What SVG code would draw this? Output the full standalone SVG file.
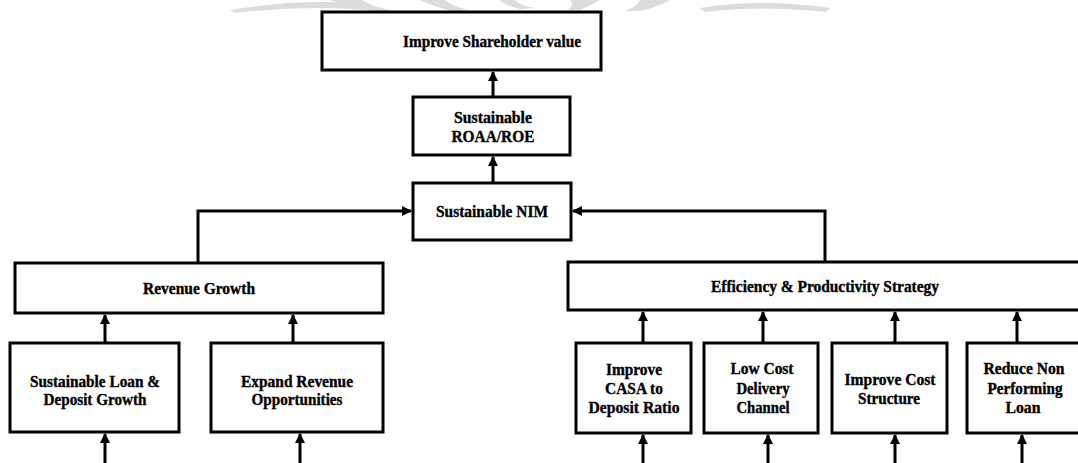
<svg xmlns="http://www.w3.org/2000/svg" width="1078" height="463" viewBox="0 0 1078 463">
  <style>
    .box { fill: #ffffff; stroke: #000000; stroke-width: 3; }
    .lbl { font-family: "Liberation Serif", "Times New Roman", serif; font-weight: bold; font-size: 16px; fill: #000000; stroke: #000000; stroke-width: 0.35; text-anchor: middle; }
    .con { fill: none; stroke: #000000; stroke-width: 3; marker-end: url(#ah); }
    .wm { fill: #dcdcdc; stroke: none; }
  </style>
  <defs>
    <marker id="ah" markerUnits="userSpaceOnUse" markerWidth="10" markerHeight="10" viewBox="0 0 10 10" refX="9" refY="5" orient="auto">
      <path d="M0,0 L10,5 L0,10 Z" fill="#000000"/>
    </marker>
  </defs>
  <rect width="1078" height="463" fill="#ffffff"/>

  <g id="watermark">
    <path class="wm" d="M230,10 Q300,-2 370,4 L368,10 Q300,5 235,13 Z"/>
    <path class="wm" d="M330,0 L362,0 Q375,8 392,10 L380,12 Q350,8 330,0 Z"/>
    <path class="wm" d="M420,0 L445,0 Q455,8 470,10 L452,11 Q432,6 420,0 Z"/>
    <path class="wm" d="M500,0 L515,0 Q520,6 535,8 L520,9 Q505,5 500,0 Z"/>
    <path class="wm" d="M570,0 L600,0 Q590,6 580,10 L568,10 Q575,5 570,0 Z"/>
    <path class="wm" d="M640,0 L670,0 Q655,8 640,11 L625,11 Q638,6 640,0 Z"/>
    <path class="wm" d="M700,8 Q760,-2 830,8 L826,12 Q760,5 705,12 Z"/>
  </g>

  <g id="connectors">
    <line class="con" x1="493" y1="97" x2="493" y2="72"/>
    <line class="con" x1="493" y1="183" x2="493" y2="157"/>
    <polyline class="con" points="198,263 198,211 411,211"/>
    <polyline class="con" points="825,262 825,211 573,211"/>
    <line class="con" x1="105" y1="343" x2="105" y2="315"/>
    <line class="con" x1="293" y1="343" x2="293" y2="315"/>
    <line class="con" x1="105" y1="463" x2="105" y2="434"/>
    <line class="con" x1="300" y1="463" x2="300" y2="434"/>
    <line class="con" x1="643" y1="343" x2="643" y2="312"/>
    <line class="con" x1="763" y1="343" x2="763" y2="312"/>
    <line class="con" x1="895" y1="343" x2="895" y2="312"/>
    <line class="con" x1="1017" y1="343" x2="1017" y2="312"/>
    <line class="con" x1="643" y1="463" x2="643" y2="435"/>
    <line class="con" x1="768" y1="463" x2="768" y2="435"/>
    <line class="con" x1="895" y1="463" x2="895" y2="435"/>
    <line class="con" x1="1022" y1="463" x2="1022" y2="435"/>
  </g>

  <g id="shareholder">
    <rect class="box" x="322" y="12" width="279" height="58"/>
    <text class="lbl" x="492" y="47" textLength="178" lengthAdjust="spacingAndGlyphs">Improve Shareholder value</text>
  </g>
  <g id="roaa">
    <rect class="box" x="413" y="97" width="157" height="58"/>
    <text class="lbl" x="493" y="123" textLength="78" lengthAdjust="spacingAndGlyphs">Sustainable</text>
    <text class="lbl" x="493" y="142" textLength="83" lengthAdjust="spacingAndGlyphs">ROAA/ROE</text>
  </g>
  <g id="nim">
    <rect class="box" x="413" y="183" width="158" height="57"/>
    <text class="lbl" x="492" y="217" textLength="112" lengthAdjust="spacingAndGlyphs">Sustainable NIM</text>
  </g>
  <g id="revenue">
    <rect class="box" x="15" y="263" width="368" height="50"/>
    <text class="lbl" x="199" y="294" textLength="112" lengthAdjust="spacingAndGlyphs">Revenue Growth</text>
  </g>
  <g id="efficiency">
    <rect class="box" x="568" y="262" width="516" height="48"/>
    <text class="lbl" x="825" y="292" textLength="228" lengthAdjust="spacingAndGlyphs">Efficiency &amp; Productivity Strategy</text>
  </g>
  <g id="loan">
    <rect class="box" x="10" y="343" width="169" height="89"/>
    <text class="lbl" x="95" y="387" textLength="130" lengthAdjust="spacingAndGlyphs">Sustainable Loan &amp;</text>
    <text class="lbl" x="95" y="405" textLength="103" lengthAdjust="spacingAndGlyphs">Deposit Growth</text>
  </g>
  <g id="expand">
    <rect class="box" x="211" y="343" width="172" height="89"/>
    <text class="lbl" x="297" y="387" textLength="112" lengthAdjust="spacingAndGlyphs">Expand Revenue</text>
    <text class="lbl" x="297" y="405" textLength="91" lengthAdjust="spacingAndGlyphs">Opportunities</text>
  </g>
  <g id="casa">
    <rect class="box" x="576" y="343" width="115" height="90"/>
    <text class="lbl" x="634" y="375" textLength="56" lengthAdjust="spacingAndGlyphs">Improve</text>
    <text class="lbl" x="634" y="394" textLength="58" lengthAdjust="spacingAndGlyphs">CASA to</text>
    <text class="lbl" x="634" y="413" textLength="91" lengthAdjust="spacingAndGlyphs">Deposit Ratio</text>
  </g>
  <g id="lowcost">
    <rect class="box" x="704" y="343" width="114" height="90"/>
    <text class="lbl" x="762" y="374" textLength="63" lengthAdjust="spacingAndGlyphs">Low Cost</text>
    <text class="lbl" x="763" y="394" textLength="53" lengthAdjust="spacingAndGlyphs">Delivery</text>
    <text class="lbl" x="763" y="413" textLength="53" lengthAdjust="spacingAndGlyphs">Channel</text>
  </g>
  <g id="coststructure">
    <rect class="box" x="832" y="343" width="115" height="90"/>
    <text class="lbl" x="890" y="385" textLength="91" lengthAdjust="spacingAndGlyphs">Improve Cost</text>
    <text class="lbl" x="889" y="404" textLength="62" lengthAdjust="spacingAndGlyphs">Structure</text>
  </g>
  <g id="npl">
    <rect class="box" x="967" y="343" width="117" height="90"/>
    <text class="lbl" x="1024" y="374" textLength="81" lengthAdjust="spacingAndGlyphs">Reduce Non</text>
    <text class="lbl" x="1025" y="394" textLength="75" lengthAdjust="spacingAndGlyphs">Performing</text>
    <text class="lbl" x="1023" y="413" textLength="35" lengthAdjust="spacingAndGlyphs">Loan</text>
  </g>
</svg>
